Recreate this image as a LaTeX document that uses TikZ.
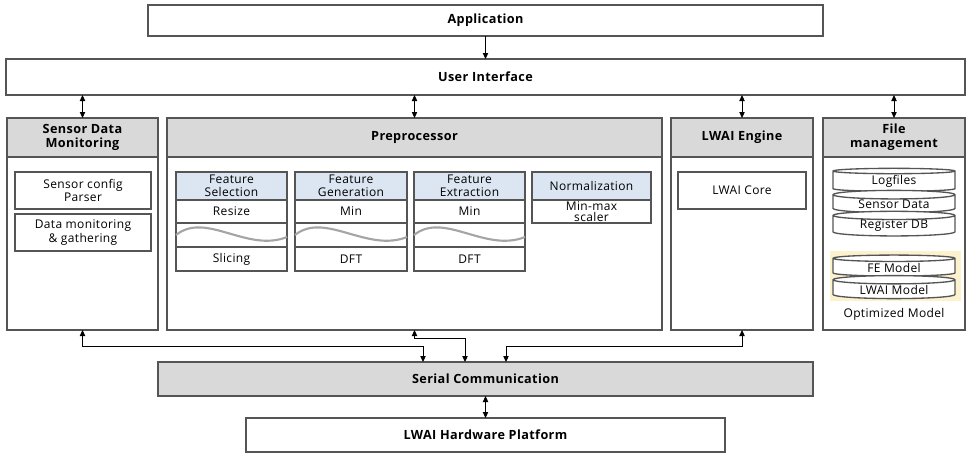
\documentclass[tikz,border=0pt]{standalone}
\usepackage{fontspec}
\setmainfont[LetterSpace=3]{Open Sans}
\usetikzlibrary{arrows.meta,shapes.geometric}

\definecolor{edge}{RGB}{85,85,85}
\definecolor{headgray}{RGB}{217,217,217}
\definecolor{headblue}{RGB}{220,230,242}
\definecolor{optyellow}{RGB}{253,242,206}
\definecolor{wavegray}{RGB}{165,165,165}

\tikzset{every picture/.style={line width=0.75pt}}
\tikzset{
  blk/.style 2 args={draw=edge, line width=1pt, anchor=north west, inner sep=0pt, outer sep=0pt,
    minimum width=#1*0.75pt, minimum height=#2*0.75pt, align=center,
    font=\fontsize{9}{10}\selectfont},
  hdr/.style={fill=headgray, font=\bfseries\fontsize{9.5}{10.5}\selectfont},
  bold/.style={font=\bfseries\fontsize{9.5}{10.5}\selectfont},
  fhd/.style={fill=headblue},
  disk/.style 2 args={cylinder, shape border rotate=90, aspect=0.12, draw=edge, line width=1pt,
    fill=white, inner sep=0pt, outer sep=0pt, minimum width=#1*0.75pt, minimum height=#2*0.75pt,
    font=\fontsize{9}{10}\selectfont},
  wave/.style={draw=wavegray, line width=1.6pt},
  link/.style={draw=black, line width=0.75pt, {Triangle[length=4.5pt,width=4pt]}-{Triangle[length=4.5pt,width=4pt]}},
  down/.style={draw=black, line width=0.75pt, -{Triangle[length=4.5pt,width=4pt]}}
}

\begin{document}
\begin{tikzpicture}[x=0.75pt,y=0.75pt,yscale=-1,xscale=1]
    \useasboundingbox (0,0) rectangle (973,461);

    % Top layers
    \node[blk={675}{31}, bold] (app) at (148,5) {Application};
    \node[blk={959}{36}, bold] (ui) at (6,59) {User Interface};

    % Columns
    \node[blk={151}{212}] (sdm) at (7,118) {};
    \node[blk={151}{39}, hdr] (sdmh) at (7,118) {Sensor Data\\Monitoring};
    \node[blk={495}{212}] (pre) at (167,118) {};
    \node[blk={495}{39}, hdr] (preh) at (167,118) {Preprocessor};
    \node[blk={142}{212}] (eng) at (671,118) {};
    \node[blk={142}{39}, hdr] (engh) at (671,118) {LWAI Engine};
    \node[blk={142}{212}] (fm) at (823,118) {};
    \node[blk={142}{39}, hdr] (fmh) at (823,118) {File\\management};

    % Sensor data monitoring
    \node[blk={136}{37}] (cfg) at (15,172) {Sensor config\\Parser};
    \node[blk={136}{37}] (dmg) at (15,214) {Data monitoring\\\& gathering};

    % Preprocessor stages
    \foreach \nm/\x/\w/\t/\a/\b in {fs/176/111/{Feature\\Selection}/Resize/Slicing,
        fg/295/112/{Feature\\Generation}/Min/DFT,
        fe/414/111/{Feature\\Extraction}/Min/DFT}{
      \node[blk={\w}{28}, fhd, font=\fontsize{9}{9.5}\selectfont] (\nm h) at (\x,172) {\t};
      \node[blk={\w}{23}] (\nm a) at (\x,200) {\a};
      \node[blk={\w}{24}] (\nm w) at (\x,223) {};
      \node[blk={\w}{24}] (\nm b) at (\x,247) {\b};
      \draw[wave] (\nm w.west) .. controls ([shift={(30,-24)}]\nm w.west) and ([shift={(-40,18)}]\nm w.east) .. ([shift={(0,2)}]\nm w.east);
    }
    \node[blk={119}{28}, fhd] (nmh) at (532,172) {Normalization};
    \node[blk={119}{23}, font=\fontsize{9}{8.5}\selectfont] (nma) at (532,200) {Min-max\\scaler};

    % LWAI engine
    \node[blk={128}{37}] (core) at (678,172) {LWAI Core};

    % File management
    \node[anchor=north west, fill=optyellow, inner sep=0pt, minimum width=131*0.75pt, minimum height=50*0.75pt] (hl) at (829,250) {};
    \node[disk={122}{23}] (logf) at (894,181.5) {Logfiles};
    \node[disk={122}{22}] (sens) at (894,204) {Sensor Data};
    \node[disk={122}{22}] (regdb) at (894,226) {Register DB};
    \node[disk={122}{21}] (fem) at (894,267.5) {FE Model};
    \node[disk={122}{23}] (lwaim) at (894,289.5) {LWAI Model};
    \node[font=\fontsize{9}{10}\selectfont, inner sep=0pt] (opt) at (894,314) {Optimized Model};

    % Bottom layers
    \node[blk={655}{34}, hdr] (ser) at (158,362) {Serial Communication};
    \node[blk={479}{34}, bold] (hw) at (246,418) {LWAI Hardware Platform};

    % Connectors
    \draw[down] (app) -- (ui);
    \foreach \c in {sdm,pre,eng,fm}
      \draw[link] (\c.north |- ui.south) -- (\c.north);
    \draw[link] (sdm.south) -- ++(0,16) -| ([shift={(-62.5,0)}]ser.north);
    \draw[link] (pre.south) -- ++(0,8) -| ([shift={(-20.5,0)}]ser.north);
    \draw[link] (eng.south) -- ++(0,16) -| ([shift={(20.5,0)}]ser.north);
    \draw[link] (ser) -- (hw);

\end{tikzpicture}
\end{document}
